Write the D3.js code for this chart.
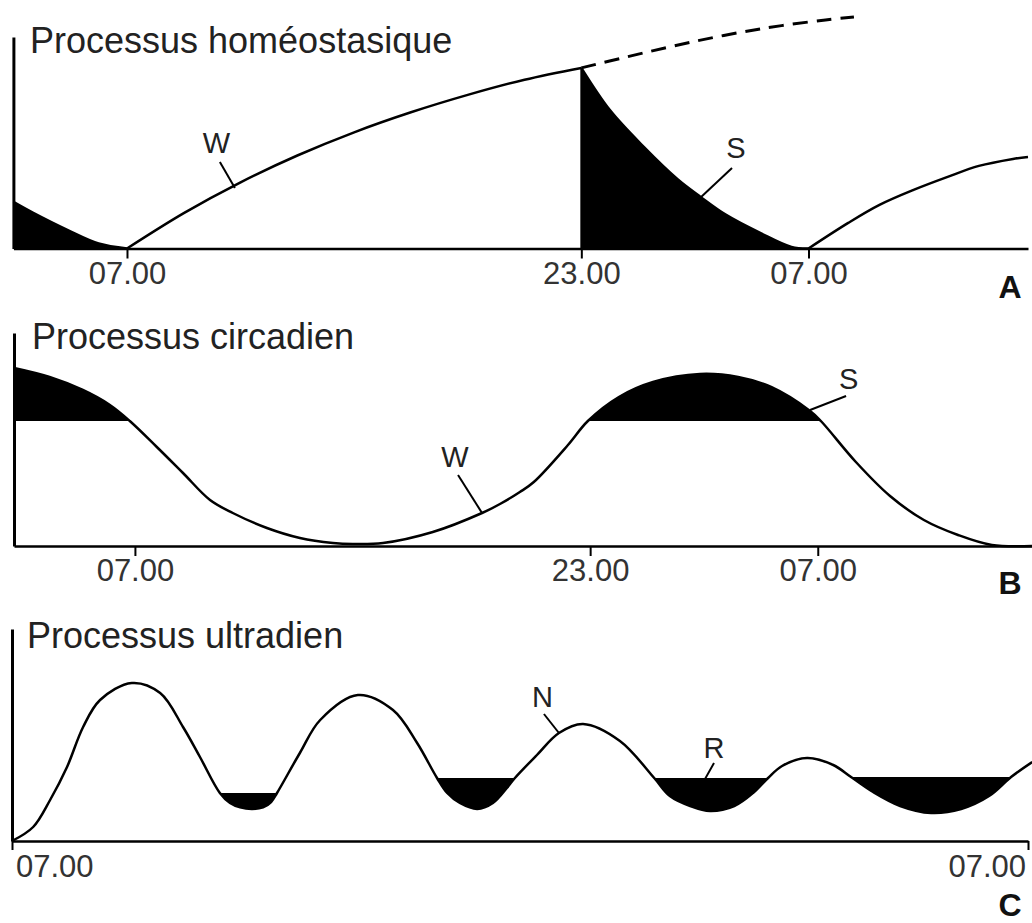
<!DOCTYPE html>
<html lang="fr">
<head>
<meta charset="UTF-8">
<title>Processus du sommeil</title>
<script src="https://d3js.org/d3.v7.min.js"></script>
<style>
    * { margin: 0; padding: 0; }
    body { background: #fff; }
    svg { display: block; }
</style>
</head>
<body>
<script>
// hours counted from the first 07.00, level in arbitrary units
var homeoSleepBefore = [[-4.0, 23.3], [-3.3, 17.8], [-2.1, 9.3], [-1.0, 2.5], [0, 0]];
var homeoWake = [[0, 0], [2, 17.7], [4, 33.1], [6, 46.5], [8, 58.1], [10, 68.1], [12, 76.8], [14, 84.4], [16, 90.3]];
var homeoExtension = [[16, 90.3], [17.6, 95.8], [19.9, 103.3], [22.3, 109.8], [24.6, 114.3], [25.6, 115.8]];
var homeoSleep = [[16, 90.3], [17, 69.3], [18.2, 50.8], [19.4, 34.5], [20.2, 25.8], [21.1, 16.8], [22.3, 7.8], [23.4, 0.8], [24, 0]];
var homeoWakeNext = [[24, 0], [25.4, 12.8], [26.5, 21.8], [27.7, 29.3], [28.9, 35.8], [30, 41.3], [31.2, 44.8], [31.73, 45.8]];

var circadian = [[-4.25, 89], [-3, 84.5], [-1.83, 78], [-0.88, 70.5], [-0.18, 62.5], [0.77, 49.5], [1.69, 36.5],
    [2.64, 23], [3.44, 16.5], [4.64, 9], [5.8, 4], [6.96, 1.5], [7.66, 1], [8.72, 1.5], [10.47, 7], [12.2, 16.5],
    [12.83, 21], [13.53, 27], [14.02, 32], [15.22, 50.5], [15.92, 62.5], [17.01, 74.5], [18.21, 82], [19.86, 86],
    [21.2, 84.5], [22.36, 79.5], [23.73, 67.5], [24.11, 62.5], [25.34, 42], [26.54, 25], [27.73, 13], [28.93, 5.5],
    [30.12, 0.5], [31.53, 0]];
var circadianThreshold = 62.5;

var ultradian = [[0, 0], [0.5, 7], [0.9, 20.5], [1.3, 37], [1.68, 57], [2.08, 70.5], [2.83, 79], [3.5, 74], [4.04, 57],
    [4.44, 42], [4.91, 24], [5.15, 19], [5.39, 16.8], [5.67, 16], [5.93, 16.8], [6.12, 19.5], [6.26, 24], [6.8, 44],
    [7.28, 60.5], [8.17, 73], [9.0, 65.5], [9.57, 49], [10.04, 31.5], [10.28, 24], [10.58, 19], [10.99, 16],
    [11.36, 19], [11.69, 26.5], [11.88, 31.5], [12.4, 43], [12.92, 54], [13.49, 58.5], [14.36, 50], [15.17, 31.5],
    [15.54, 22.5], [16.02, 17.5], [16.49, 15], [17.06, 17.5], [17.53, 24.5], [17.86, 31.5], [18.19, 37.5],
    [18.78, 41.5], [19.4, 38], [19.82, 32], [20.34, 24.5], [20.98, 17.5], [21.71, 14], [22.42, 16], [23.08, 22.5],
    [23.6, 32], [24.1, 39.5]];
// start, end, level of each REM trough
var ultradianTroughs = [[4.91, 6.26, 24], [10.04, 11.88, 31.5], [15.17, 17.86, 31.5], [19.82, 23.6, 32]];

var tickHours = [0, 16, 24];
var tickLabels = ['07.00', '23.00', '07.00'];
var tickHoursC = [0, 24];
var tickLabelsC = ['07.00', '07.00'];

var font = "'Liberation Sans', Arial, Helvetica, sans-serif";
var smooth = d3.curveCatmullRom.alpha(0.5);

var svg = d3.select('body').append('svg')
    .attr('width', 1032)
    .attr('height', 923)
    .attr('font-family', font);

var defs = svg.append('defs');

function lineOf(x, y) {
    return d3.line().x(function(d) { return x(d[0]) }).y(function(d) { return y(d[1]) }).curve(smooth);
}

function drawAxes(x, y, hours, labels, vStroke) {
    var bottom = svg.append('g')
        .attr('transform', 'translate(0,' + y(0) + ')')
        .call(d3.axisBottom(x).tickValues(hours).tickFormat(function(d, i) { return labels[i] })
            .tickSizeInner(10).tickSizeOuter(0).tickPadding(3));
    bottom.select('.domain').attr('stroke-width', 2.5);
    bottom.selectAll('.tick line').attr('stroke-width', 2);
    bottom.selectAll('.tick text')
        .attr('font-size', 31).attr('font-family', font).attr('fill', '#333');
    var left = svg.append('g')
        .attr('transform', 'translate(' + x(x.domain()[0]) + ',0)')
        .call(d3.axisLeft(y).tickValues([]).tickSizeOuter(0));
    left.select('.domain').attr('stroke-width', vStroke);
    return bottom;
}

function title(text, x, y) {
    svg.append('text').attr('x', x).attr('y', y)
        .attr('font-size', 36).attr('fill', '#222').text(text);
}

function panelLetter(text, y) {
    svg.append('text').attr('x', 1010).attr('y', y)
        .attr('text-anchor', 'middle').attr('font-size', 32).attr('font-weight', 'bold')
        .attr('fill', '#111').text(text);
}

// leader line from a point of the curve, with its letter
function tag(x, y, a) {
    var px = x(a.t), py = y(a.v);
    svg.append('line')
        .attr('x1', px).attr('y1', py).attr('x2', px + a.lx).attr('y2', py + a.ly)
        .attr('stroke', '#000').attr('stroke-width', 2);
    svg.append('text').attr('x', px + a.tx).attr('y', py + a.ty)
        .attr('text-anchor', 'middle').attr('font-size', 29).attr('fill', '#222').text(a.text);
}

/* ---------- A : processus homéostasique ---------- */
var xA = d3.scaleLinear().domain([-4, 31.73]).range([13.4, 1028]);
var yA = d3.scaleLinear().domain([0, 105.75]).range([248.5, 37]);
var areaA = d3.area().x(function(d) { return xA(d[0]) }).y0(yA(0)).y1(function(d) { return yA(d[1]) })
    .curve(smooth);
var lineA = lineOf(xA, yA);

[homeoSleepBefore, homeoSleep].forEach(function(s) {
    svg.append('path').attr('d', areaA(s)).attr('fill', '#000');
});
[homeoSleepBefore, homeoWake, homeoSleep, homeoWakeNext].forEach(function(s) {
    svg.append('path').attr('d', lineA(s)).attr('fill', 'none').attr('stroke', '#000').attr('stroke-width', 2.5);
});
svg.append('path').attr('d', lineA(homeoExtension)).attr('fill', 'none')
    .attr('stroke', '#000').attr('stroke-width', 3).attr('stroke-dasharray', '15,9');
svg.append('line')
    .attr('x1', xA(homeoSleep[0][0])).attr('x2', xA(homeoSleep[0][0]))
    .attr('y1', yA(0)).attr('y2', yA(homeoSleep[0][1]))
    .attr('stroke', '#000').attr('stroke-width', 2);

drawAxes(xA, yA, tickHours, tickLabels, 3);
title('Processus homéostasique', 30, 53);
tag(xA, yA, { text: 'W', t: 3.8, v: 30.3, lx: -15, ly: -26, tx: -18.5, ty: -35 });
tag(xA, yA, { text: 'S', t: 20.18, v: 25.3, lx: 32, ly: -30, tx: 36, ty: -40 });
panelLetter('A', 298);

/* ---------- B : processus circadien ---------- */
var xB = d3.scaleLinear().domain([-4.25, 31.53]).range([14, 1032]);
var yB = d3.scaleLinear().domain([0, 106.5]).range([546, 333]);

defs.append('clipPath').attr('id', 'aboveThreshold')
    .append('rect').attr('x', 0).attr('y', 0).attr('width', 1032).attr('height', yB(circadianThreshold));
svg.append('path')
    .attr('d', d3.area().x(function(d) { return xB(d[0]) }).y0(yB(circadianThreshold))
        .y1(function(d) { return yB(d[1]) }).curve(smooth)(circadian))
    .attr('clip-path', 'url(#aboveThreshold)')
    .attr('fill', '#000');
svg.append('path').attr('d', lineOf(xB, yB)(circadian)).attr('fill', 'none')
    .attr('stroke', '#000').attr('stroke-width', 2.5);

drawAxes(xB, yB, tickHours, tickLabels, 3);
title('Processus circadien', 32, 349);
tag(xB, yB, { text: 'W', t: 12.2, v: 16.5, lx: -24, ly: -38, tx: -27, ty: -46 });
tag(xB, yB, { text: 'S', t: 23.73, v: 68, lx: 36, ly: -14, tx: 38.5, ty: -21 });
panelLetter('B', 594);

/* ---------- C : processus ultradien ---------- */
var xC = d3.scaleLinear().domain([0, 24]).range([12, 1028]);
var yC = d3.scaleLinear().domain([0, 106]).range([841, 629]);

ultradianTroughs.forEach(function(tr, i) {
    defs.append('clipPath').attr('id', 'trough' + i)
        .append('rect')
        .attr('x', xC(tr[0])).attr('width', xC(tr[1]) - xC(tr[0]))
        .attr('y', yC(tr[2])).attr('height', yC(0) - yC(tr[2]));
    svg.append('path')
        .attr('d', d3.area().x(function(d) { return xC(d[0]) }).y0(yC(tr[2]))
            .y1(function(d) { return yC(d[1]) }).curve(smooth)(ultradian))
        .attr('clip-path', 'url(#trough' + i + ')')
        .attr('fill', '#000');
});
svg.append('path').attr('d', lineOf(xC, yC)(ultradian)).attr('fill', 'none')
    .attr('stroke', '#000').attr('stroke-width', 2.5);

var axC = drawAxes(xC, yC, tickHoursC, tickLabelsC, 3);
axC.selectAll('.tick line').attr('y2', 9);
axC.selectAll('.tick text')
    .attr('text-anchor', function(d, i) { return i === 0 ? 'start' : 'end' })
    .attr('x', function(d, i) { return i === 0 ? 3.5 : -2.5 })
    .attr('y', 14);
title('Processus ultradien', 27, 648);
tag(xC, yC, { text: 'N', t: 12.92, v: 54, lx: -15, ly: -19, tx: -16.5, ty: -26 });
tag(xC, yC, { text: 'R', t: 16.37, v: 31, lx: 9, ly: -16, tx: 9, ty: -21 });
panelLetter('C', 916);
</script>
</body>
</html>
